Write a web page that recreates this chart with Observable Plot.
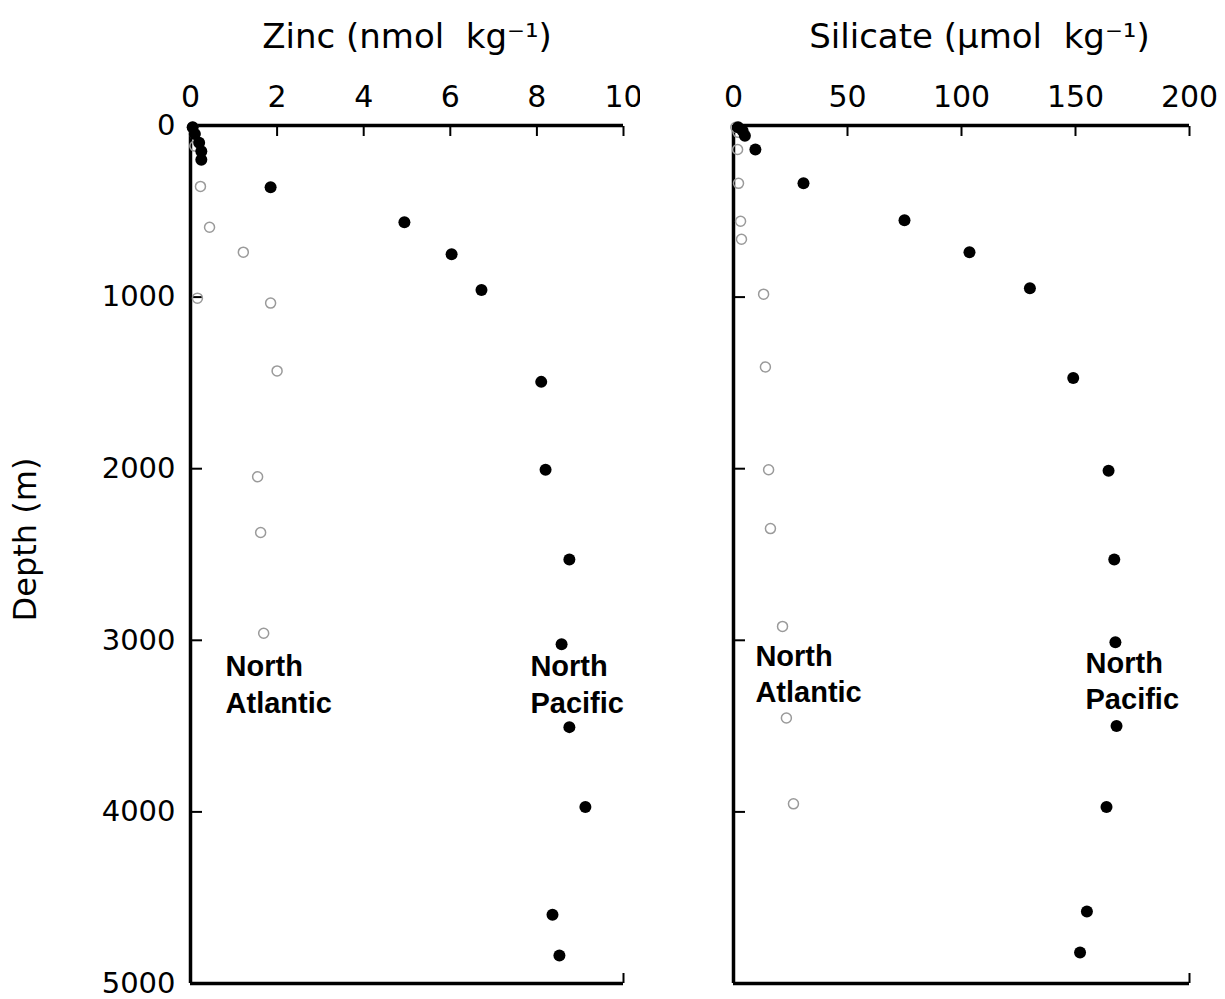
<!DOCTYPE html>
<html><head><meta charset="utf-8">
<script src="https://cdn.jsdelivr.net/npm/d3@7"></script>
<script src="https://cdn.jsdelivr.net/npm/@observablehq/plot@0.6"></script>
<style>
body{margin:0;background:#fff;}
#wrap{position:relative;width:1225px;height:999px;overflow:hidden;}
#left,#right{position:absolute;top:0;}
#left{left:0}
#right{left:640px}
</style></head>
<body><div id="wrap"><div id="left"></div><div id="right"></div></div>
<script>
// ---- tick values ----
const depthTicks = [0, 1000, 2000, 3000, 4000, 5000];
const zincTicks = [0, 2, 4, 6, 8, 10];
const silTicks = [0, 50, 100, 150, 200];

// ---- titles / labels ----
const zincTitle = "Zinc (nmol  kg⁻¹)";
const silTitle = "Silicate (μmol  kg⁻¹)";
const depthLabel = "Depth (m)";
const regionLabels = ["North\nAtlantic", "North\nPacific"];
const zincLabelX = [0.81, 7.85];
const zincLabelDepth = [3060, 3060];
const silLabelX = [9.6, 154.4];
const silLabelDepth = [3000, 3040];

// ---- Zinc, North Pacific (filled) ----
const zincPacificDepth = [10, 50, 100, 150, 200, 360, 564, 750, 959, 1494, 2006, 2529, 3023, 3506, 3971, 4599, 4837];
const zincPacific      = [0.05, 0.1, 0.2, 0.25, 0.25, 1.85, 4.94, 6.03, 6.72, 8.1, 8.2, 8.75, 8.57, 8.75, 9.12, 8.36, 8.52];
// ---- Zinc, North Atlantic (open) ----
const zincAtlanticDepth = [10, 50, 120, 355, 593, 738, 1006, 1035, 1430, 2047, 2372, 2959];
const zincAtlantic      = [0.05, 0.1, 0.1, 0.23, 0.44, 1.22, 0.16, 1.85, 2.0, 1.55, 1.62, 1.69];

// ---- Silicate, North Pacific (filled) ----
const silPacificDepth = [10, 30, 60, 140, 337, 552, 738, 948, 1471, 2012, 2529, 3012, 3500, 3971, 4581, 4820];
const silPacific      = [2, 4, 5, 9.6, 30.7, 75, 103.5, 130, 149, 164.5, 167, 167.5, 168, 163.6, 155, 152];
// ---- Silicate, North Atlantic (open) ----
const silAtlanticDepth = [10, 40, 140, 337, 558, 663, 983, 1407, 2006, 2349, 2919, 3453, 3953];
const silAtlantic      = [1, 2, 1.8, 2.2, 3.1, 3.5, 13.2, 14, 15.4, 16.2, 21.5, 23.2, 26.3];

const toRows = (vals, depths) => vals.map((v, i) => ({v, d: depths[i]}));

function panel({width, marginLeft, marginRight, xDomain, xTicks, title, titleDx, pac, atl, labelX, labelDepth, yLabels}) {
  const marks = [
    Plot.ruleY([0, 5000], {strokeWidth: 3.5, stroke: "#000"}),
    Plot.ruleX([xDomain[0]], {strokeWidth: 3.5, stroke: "#000"}),
    Plot.axisX({anchor: "top", ticks: xTicks, tickSize: -10, tickPadding: 29, label: null, strokeWidth: 2}),
    Plot.axisX({anchor: "bottom", ticks: [xDomain[1]], tickSize: -10, tickFormat: () => "", label: null, strokeWidth: 2}),
    Plot.axisY({anchor: "left", ticks: depthTicks, tickSize: -12, tickPadding: 27, label: null, strokeWidth: 2,
                fontSize: 29, tickFormat: yLabels ? (d => String(d)) : (() => "")}),
    Plot.dot(atl, {x: "v", y: "d", r: 5, stroke: "#9a9a9a", strokeWidth: 1.5, fill: "none"}),
    Plot.dot(pac, {x: "v", y: "d", r: 6, fill: "#000", stroke: "none"}),
    Plot.text([title], {text: d => d, frameAnchor: "top", dy: -102, dx: titleDx, fontSize: 34, fill: "#000"}),
    Plot.text(regionLabels, {x: (d, i) => labelX[i], y: (d, i) => labelDepth[i], text: d => d,
      textAnchor: "start", lineAnchor: "top", fontSize: 29, fontWeight: "bold",
      fontFamily: "Liberation Sans", lineHeight: 1.25, fill: "#000"})
  ];
  if (yLabels) {
    marks.push(Plot.text([depthLabel], {text: d => d, frameAnchor: "left", textAnchor: "middle", lineAnchor: "middle",
      rotate: -90, dx: -165, dy: -15, fontSize: 32, fill: "#000"}));
  }
  return Plot.plot({
    width, height: 999,
    marginTop: 125, marginBottom: 16, marginLeft, marginRight,
    style: {fontFamily: "DejaVu Sans", fontSize: "30px", color: "#000", background: "white", overflow: "visible"},
    x: {domain: xDomain},
    y: {domain: [0, 5000], reverse: true},
    marks
  });
}

document.getElementById("left").appendChild(panel({
  width: 640, marginLeft: 190, marginRight: 17, xDomain: [0, 10], xTicks: zincTicks,
  title: zincTitle, titleDx: 0,
  pac: toRows(zincPacific, zincPacificDepth), atl: toRows(zincAtlantic, zincAtlanticDepth),
  labelX: zincLabelX, labelDepth: zincLabelDepth, yLabels: true
}));
document.getElementById("right").appendChild(panel({
  width: 585, marginLeft: 93, marginRight: 36, xDomain: [0, 200], xTicks: silTicks,
  title: silTitle, titleDx: 18,
  pac: toRows(silPacific, silPacificDepth), atl: toRows(silAtlantic, silAtlanticDepth),
  labelX: silLabelX, labelDepth: silLabelDepth, yLabels: false
}));
</script>
</body></html>
